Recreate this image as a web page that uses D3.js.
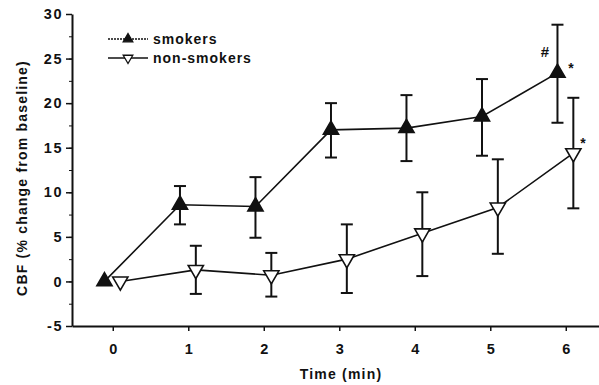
<!DOCTYPE html>
<html>
<head>
<meta charset="utf-8">
<script src="https://cdn.jsdelivr.net/npm/d3@7"></script>
<style>
  body { margin: 0; background: #fff; }
  svg text { font-family: "Liberation Sans", Arial, sans-serif; fill: #111; }
</style>
</head>
<body>
<div id="chart"></div>
<script>
// time points (min)
const times = [0, 1, 2, 3, 4, 5, 6];

// smokers: mean and error bar ends
const smokersMean = [0, 8.6, 8.4, 17.0, 17.2, 18.5, 23.4];
const smokersHigh = [0, 10.7, 11.7, 20.0, 20.9, 22.7, 28.8];
const smokersLow  = [0, 6.4, 4.9, 13.9, 13.5, 14.1, 17.8];

// non-smokers
const nonMean = [0, 1.3, 0.7, 2.5, 5.4, 8.3, 14.4];
const nonHigh = [0, 4.0, 3.2, 6.4, 10.0, 13.7, 20.6];
const nonLow  = [0, -1.4, -1.7, -1.3, 0.6, 3.1, 8.2];

const yTicks = [-5, 0, 5, 10, 15, 20, 25, 30];

const width = 599, height = 385;

const svg = d3.select("#chart").append("svg")
  .attr("width", width)
  .attr("height", height);

const x = d3.scaleLinear().domain([-0.54, 6.44]).range([72, 599]);
const y = d3.scaleLinear().domain([-5, 30]).range([326, 14]);

const ink = "#111";

// y axis with minor ticks
svg.append("g")
  .attr("transform", `translate(${x(-0.54)},0)`)
  .call(d3.axisLeft(y).tickValues(d3.range(-5, 30.1, 2.5)).tickSize(3).tickFormat(""))
  .call(g => g.select(".domain").remove())
  .selectAll("line").attr("stroke", ink);

const yAxis = svg.append("g")
  .attr("transform", `translate(${x(-0.54)},0)`)
  .call(d3.axisLeft(y).tickValues(yTicks).tickSize(6).tickPadding(3).tickSizeOuter(0)
    .tickFormat(d => String(d)));
yAxis.select(".domain").attr("stroke", ink).attr("stroke-width", 2);
yAxis.selectAll("line").attr("stroke", ink).attr("stroke-width", 1.5);
yAxis.selectAll("text").attr("font-size", 14.5).attr("font-weight", "bold")
  .attr("letter-spacing", 1.5);

const xAxis = svg.append("g")
  .attr("transform", `translate(0,${y(-5)})`)
  .call(d3.axisBottom(x).tickValues(times).tickSize(5).tickPadding(13).tickSizeOuter(0)
    .tickFormat(d => String(d)));
xAxis.select(".domain").attr("stroke", ink).attr("stroke-width", 2);
xAxis.selectAll("line").attr("stroke", ink).attr("stroke-width", 1.5);
xAxis.selectAll("text").attr("font-size", 14.5).attr("font-weight", "bold");

// axis titles
svg.append("text")
  .attr("x", 341).attr("y", 379)
  .attr("text-anchor", "middle")
  .attr("font-size", 14).attr("font-weight", "bold").attr("letter-spacing", 1.2)
  .text("Time (min)");

svg.append("text")
  .attr("transform", "translate(27,178) rotate(-90)")
  .attr("text-anchor", "middle")
  .attr("font-size", 14).attr("font-weight", "bold").attr("letter-spacing", 1.2)
  .text("CBF (% change from baseline)");

const tri = d3.symbol().type(d3.symbolTriangle).size(100);

function drawSeries(mean, high, low, offset, filled) {
  const pts = times.map((t, i) => ({ t: t + offset, m: mean[i], h: high[i], l: low[i] }));

  svg.append("path")
    .datum(pts)
    .attr("fill", "none")
    .attr("stroke", ink)
    .attr("stroke-width", 1.6)
    .attr("d", d3.line().x(d => x(d.t)).y(d => y(d.m)));

  const eb = svg.append("g").selectAll("g")
    .data(pts.filter(d => d.h !== d.l))
    .enter().append("g");
  eb.append("line")
    .attr("x1", d => x(d.t)).attr("x2", d => x(d.t))
    .attr("y1", d => y(d.h)).attr("y2", d => y(d.l))
    .attr("stroke", ink).attr("stroke-width", 2);
  eb.append("line")
    .attr("x1", d => x(d.t) - 6).attr("x2", d => x(d.t) + 6)
    .attr("y1", d => y(d.h)).attr("y2", d => y(d.h))
    .attr("stroke", ink).attr("stroke-width", 2);
  eb.append("line")
    .attr("x1", d => x(d.t) - 6).attr("x2", d => x(d.t) + 6)
    .attr("y1", d => y(d.l)).attr("y2", d => y(d.l))
    .attr("stroke", ink).attr("stroke-width", 2);

  svg.append("g").selectAll("path")
    .data(pts)
    .enter().append("path")
    .attr("d", tri)
    .attr("transform", d => `translate(${x(d.t)},${y(d.m)})` + (filled ? "" : " rotate(180)"))
    .attr("fill", filled ? ink : "#fff")
    .attr("stroke", ink)
    .attr("stroke-width", 1.6);
}

drawSeries(nonMean, nonHigh, nonLow, 0.1, false);
drawSeries(smokersMean, smokersHigh, smokersLow, -0.11, true);

// significance marks
svg.append("text").attr("x", 545).attr("y", 57)
  .attr("text-anchor", "middle").attr("font-size", 15).attr("font-weight", "bold").text("#");
svg.append("text").attr("x", 571).attr("y", 73)
  .attr("text-anchor", "middle").attr("font-size", 14).attr("font-weight", "bold").text("*");
svg.append("text").attr("x", 583).attr("y", 148)
  .attr("text-anchor", "middle").attr("font-size", 14).attr("font-weight", "bold").text("*");

// legend
const legend = [
  { label: "smokers", filled: true, y: 39 },
  { label: "non-smokers", filled: false, y: 58 }
];
const lg = svg.append("g").selectAll("g").data(legend).enter().append("g")
  .attr("transform", d => `translate(0,${d.y})`);
lg.append("line").attr("x1", 108).attr("x2", 148).attr("y1", 0).attr("y2", 0)
  .attr("stroke", ink).attr("stroke-width", 1.4)
  .attr("stroke-dasharray", d => d.filled ? "2,1" : null);
lg.append("path")
  .attr("d", d3.symbol().type(d3.symbolTriangle).size(40))
  .attr("transform", d => "translate(128,0)" + (d.filled ? "" : " rotate(180)"))
  .attr("fill", d => d.filled ? ink : "#fff")
  .attr("stroke", ink).attr("stroke-width", 1.3);
lg.append("text").attr("x", 153).attr("y", 5)
  .attr("font-size", 14).attr("font-weight", "bold").attr("letter-spacing", 1)
  .text(d => d.label);
</script>
</body>
</html>
